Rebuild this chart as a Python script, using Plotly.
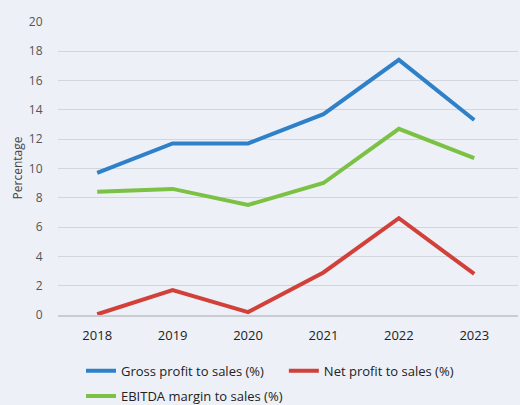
import plotly.graph_objects as go

years = [2018, 2019, 2020, 2021, 2022, 2023]
gross_profit = [9.7, 11.7, 11.7, 13.7, 17.4, 13.3]
net_profit = [0.05, 1.7, 0.2, 2.9, 6.6, 2.8]
ebitda_margin = [8.4, 8.6, 7.5, 9.0, 12.7, 10.7]
y_ticks = [0, 2, 4, 6, 8, 10, 12, 14, 16, 18, 20]

series = [
    ("Gross profit to sales (%)", gross_profit, "#2e80c9", "legend"),
    ("Net profit to sales (%)", net_profit, "#d2403a", "legend2"),
    ("EBITDA margin to sales (%)", ebitda_margin, "#7bc143", "legend3"),
]

fig = go.Figure()
for name, vals, col, lg in series:
    fig.add_trace(go.Scatter(x=years, y=vals, name=name, mode="lines",
                             line=dict(color=col, width=4), legend=lg))

bg = "#edf0f7"
leg_common = dict(orientation="h", xanchor="left", yanchor="middle",
                  font=dict(size=13, color="#222222", family="Open Sans"),
                  bgcolor="rgba(0,0,0,0)", borderwidth=0)
fig.update_layout(
    width=520, height=405,
    margin=dict(l=58, r=2, t=21, b=90, autoexpand=False),
    paper_bgcolor=bg, plot_bgcolor=bg,
    font=dict(family="Open Sans", size=12, color="#333333"),
    showlegend=True,
    legend=dict(x=0.05, y=-0.19, **leg_common),
    legend2=dict(x=0.491, y=-0.19, **leg_common),
    legend3=dict(x=0.05, y=-0.276, **leg_common),
    xaxis=dict(range=[2017.48, 2023.58], tickmode="array", tickvals=years,
               ticktext=[str(y) for y in years], showgrid=False, zeroline=False,
               showline=True, linecolor="#c9ccd3", linewidth=1.5,
               tickfont=dict(size=13, color="#222222"),
               ticks="outside", ticklen=8, tickcolor=bg),
    yaxis=dict(range=[0, 20.05], tickvals=y_ticks, showgrid=True,
               gridcolor="#d2d5db", gridwidth=1, zeroline=False,
               tickfont=dict(size=12, color="#555555"),
               ticks="outside", ticklen=12, tickcolor=bg,
               title=dict(text="Percentage", font=dict(size=12, color="#444444"), standoff=3)),
)

fig.write_html("out.html", config={"displayModeBar": False},
               post_script="document.body.style.margin='0';document.body.style.background='%s';" % bg)
